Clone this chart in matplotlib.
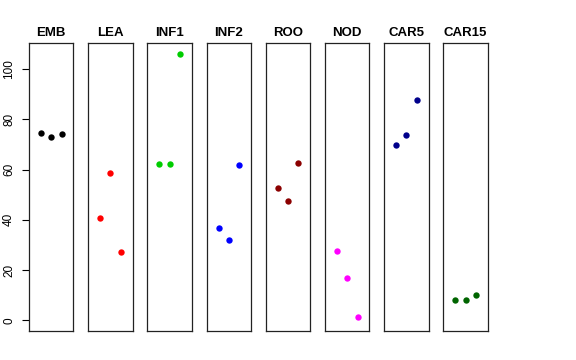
import matplotlib.pyplot as plt
import numpy as np

plt.rcParams['font.family'] = ['Liberation Sans', 'DejaVu Sans']

tissues = ["EMB", "LEA", "INF1", "INF2", "ROO", "NOD", "CAR5", "CAR15"]
colors = ["black", "#FF0000", "#00CD00", "#0000FF", "#8B0000", "#FF00FF", "#00008B", "#006400"]

EMB = [74.7, 73.1, 74.3]
LEA = [40.7, 58.5, 27.1]
INF1 = [62.3, 62.3, 106.0]
INF2 = [36.6, 32.0, 61.9]
ROO = [52.8, 47.6, 62.6]
NOD = [27.6, 16.7, 1.4]
CAR5 = [69.8, 73.6, 87.7]
CAR15 = [8.2, 8.1, 9.9]
values = [EMB, LEA, INF1, INF2, ROO, NOD, CAR5, CAR15]

reps = [1, 2, 3]

fig, axes = plt.subplots(1, 8, figsize=(5.76, 3.6), dpi=100, sharey=True)
fig.subplots_adjust(left=0.0503, right=0.847, top=0.8797, bottom=0.0806, wspace=0.33)

for i, ax in enumerate(axes):
    ax.scatter(reps, values[i], s=21, color=colors[i], zorder=3, linewidths=0)
    ax.set_xlim(-0.16, 4.16)
    ax.set_ylim(-4.24, 110.24)
    ax.set_xticks([])
    ax.set_title(tissues[i], fontsize=9.5, fontweight='bold', pad=5)
    for s in ax.spines.values():
        s.set_linewidth(0.9)
        s.set_color('#222222')
    if i == 0:
        ax.set_yticks([0, 20, 40, 60, 80, 100])
        ax.tick_params(axis='y', length=5, width=0.8, pad=5, labelsize=8.5)
        for lab in ax.get_yticklabels():
            lab.set_rotation(90)
            lab.set_va('center')
    else:
        ax.tick_params(axis='y', left=False, labelleft=False)

fig.savefig("out.png")
